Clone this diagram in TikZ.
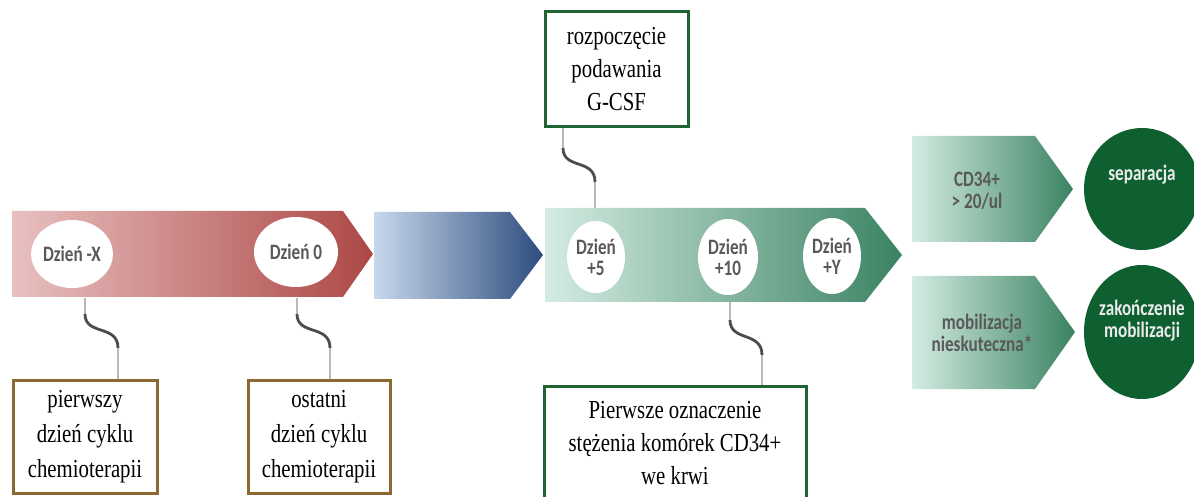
\documentclass[tikz,border=0pt]{standalone}
\usepackage{fontspec}
\setmainfont[FakeStretch=0.8]{Liberation Serif}
\newfontfamily\labelfont[FakeStretch=0.78]{Carlito}
\usepackage{tikz}
\usetikzlibrary{shapes.geometric}

\definecolor{redL}{RGB}{232,192,192}
\definecolor{redR}{RGB}{172,72,70}
\definecolor{blueL}{RGB}{200,216,236}
\definecolor{blueR}{RGB}{45,76,126}
\definecolor{greenL}{RGB}{212,236,226}
\definecolor{greenR}{RGB}{58,130,98}
\definecolor{darkgreen}{RGB}{14,96,48}
\definecolor{boxgreen}{RGB}{31,100,50}
\definecolor{boxbrown}{RGB}{140,105,50}
\definecolor{daytext}{RGB}{89,89,89}

\tikzset{
  day/.style={ellipse,fill=white,inner sep=0pt,align=center,text=daytext,
    font=\labelfont\bfseries\fontsize{11}{10.5}\selectfont},
  tag/.style={align=center,font=\labelfont\bfseries\fontsize{11}{11}\selectfont},
  note/.style={draw=#1,line width=1.5pt,fill=white,align=center,inner sep=0pt,
    font=\fontsize{13}{16.5}\selectfont},
  lead/.style={gray!55,line width=0.6pt},
  wave/.style={black!70,line width=1.4pt}
}

\begin{document}
\begin{tikzpicture}[x=0.5pt,y=-0.5pt]
\useasboundingbox (0,0) rectangle (1194,497);
% time line
\shade[left color=redL,right color=redR] (12,211)--(343,211)--(373,254)--(343,297)--(12,297)--cycle;
\shade[left color=blueL,right color=blueR] (374,212)--(510,212)--(543,255)--(510,299)--(374,299)--cycle;
\shade[left color=greenL,right color=greenR] (545,208)--(865,208)--(902,255)--(865,302)--(545,302)--cycle;
% outcomes
\shade[left color=greenL,right color=greenR] (912,136)--(1035,136)--(1073,189)--(1035,242)--(912,242)--cycle;
\shade[left color=greenL,right color=greenR] (912,276)--(1035,276)--(1075,332)--(1035,389)--(912,389)--cycle;
\node[tag,text=daytext] (cd) at (977,191) {CD34+\\> 20/ul};
\node[tag,text=daytext] (mob) at (982,333) {mobilizacja\\nieskuteczna*};
\node[ellipse,fill=darkgreen,minimum width=58pt,minimum height=61pt] (sep) at (1142,189) {};
\node[tag,text=white!92!black] (septxt) at (1142,175) {separacja};
\node[ellipse,fill=darkgreen,minimum width=58pt,minimum height=67pt] (end) at (1142,332) {};
\node[tag,text=white!92!black] (endtxt) at (1142,321) {zakończenie\\mobilizacji};
% days
\node[day,minimum width=40pt,minimum height=34pt] (dx) at (72,254) {Dzień -X};
\node[day,minimum width=42pt,minimum height=35pt] (d0) at (296,252) {Dzień 0};
\node[day,minimum width=29pt,minimum height=36pt] (d5) at (596,257) {Dzień\\+5};
\node[day,minimum width=30pt,minimum height=38pt] (d10) at (728,257) {Dzień\\+10};
\node[day,minimum width=29pt,minimum height=38pt] (dy) at (832,256) {Dzień\\+Y};
% notes
\node[note=boxbrown,minimum width=72pt,minimum height=56.5pt,font=\fontsize{13}{17.5}\selectfont] (first) at (85,436.5) {pierwszy\\dzień cyklu\\chemioterapii};
\node[note=boxbrown,minimum width=71pt,minimum height=56.5pt,font=\fontsize{13}{17.5}\selectfont] (last) at (319,436.5) {ostatni\\dzień cyklu\\chemioterapii};
\node[note=boxgreen,minimum width=71.5pt,minimum height=57.5pt] (gcsf) at (616.5,69.5) {rozpoczęcie\\podawania\\G-CSF};
\node[note=boxgreen,minimum width=131pt,minimum height=57pt] (cdfirst) at (675,443) {Pierwsze oznaczenie\\stężenia komórek CD34+\\we krwi};
% leaders
\coordinate (t1) at (85,298);
\coordinate (u1) at (118,348);
\draw[lead] (t1) -- ++(0,16) coordinate (w1);
\draw[wave] (w1) .. controls +(0,22) and +(0,-24) .. (u1);
\draw[lead] (u1) -- (first.north -| u1);
\coordinate (t2) at (297,298);
\coordinate (u2) at (330,348);
\draw[lead] (t2) -- ++(0,16) coordinate (w2);
\draw[wave] (w2) .. controls +(0,22) and +(0,-24) .. (u2);
\draw[lead] (u2) -- (last.north -| u2);
\coordinate (t3) at (595,208);
\coordinate (u3) at (563,148);
\draw[lead] (gcsf.south -| u3) -- (u3);
\draw[wave] (u3) .. controls +(0,22) and +(0,-24) .. (595,182) coordinate (w3);
\draw[lead] (w3) -- (t3);
\coordinate (t4) at (730,302);
\coordinate (u4) at (762,355);
\draw[lead] (t4) -- ++(0,18) coordinate (w4);
\draw[wave] (w4) .. controls +(0,22) and +(0,-24) .. (u4);
\draw[lead] (u4) -- (cdfirst.north -| u4);
\end{tikzpicture}
\end{document}
